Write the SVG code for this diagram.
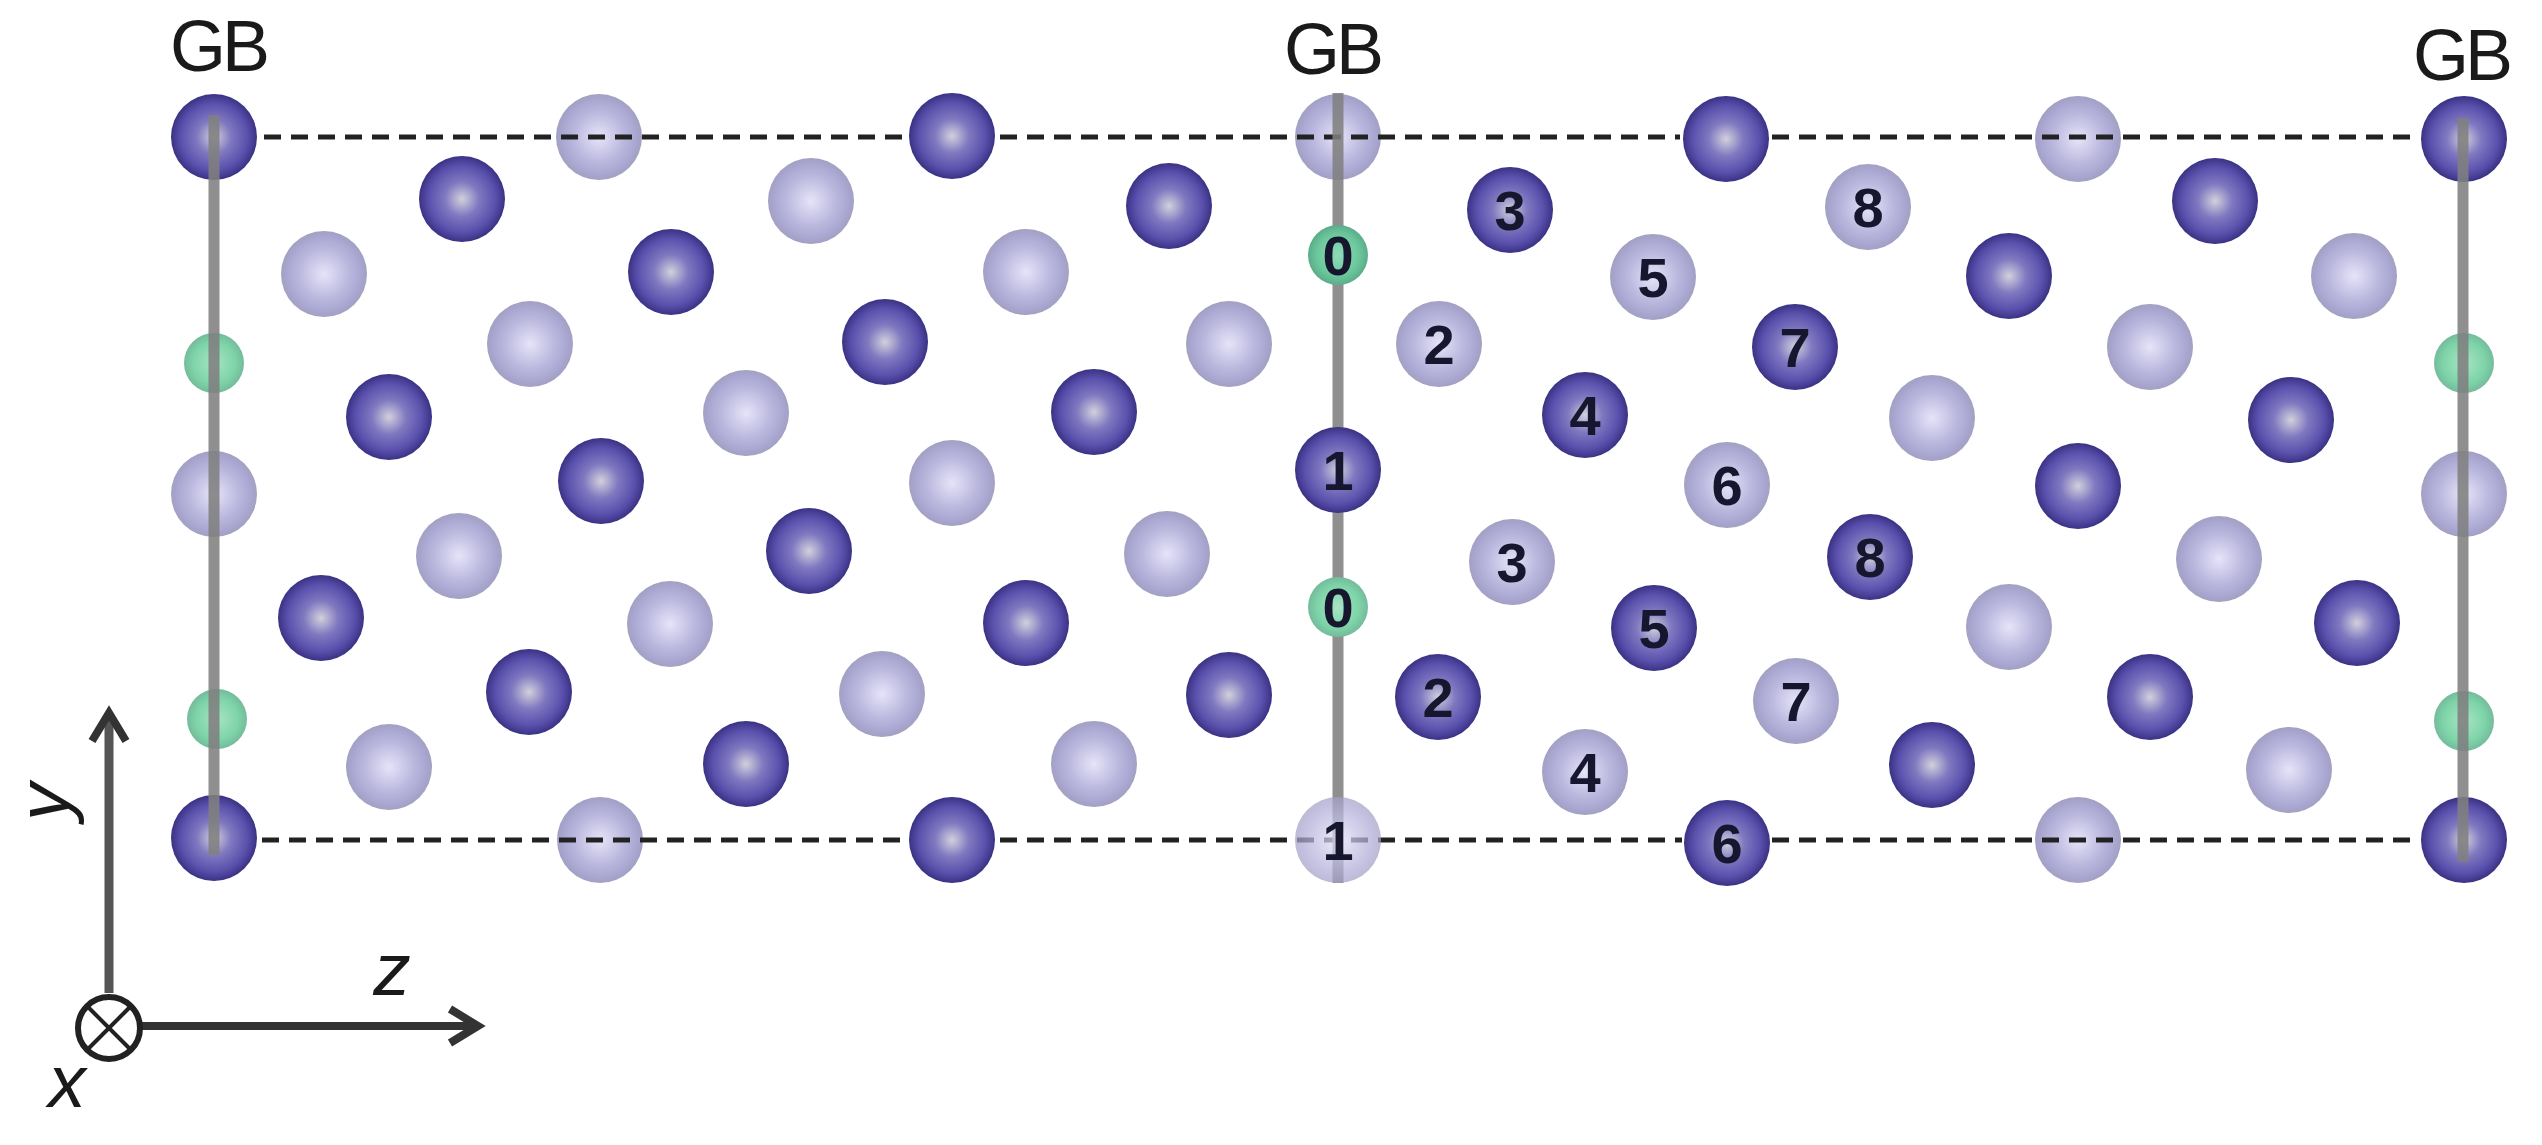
<svg xmlns="http://www.w3.org/2000/svg" width="2542" height="1145" viewBox="0 0 2542 1145">
<style>
.d{fill:url(#gd)}.l{fill:url(#gl)}.g{fill:url(#gg)}.h{fill:url(#gh)}
circle.d,circle.l{r:43px}
circle.g,circle.h{r:30px}
.n{font:bold 56px "Liberation Sans",Arial,sans-serif;fill:#16162e;text-anchor:middle}
.t{font:72px "Liberation Sans",Arial,sans-serif;fill:#1a1a1a;text-anchor:middle}
.i{font:italic 75px "Liberation Sans",Arial,sans-serif;fill:#1a1a1a;text-anchor:middle}
.v{stroke:#808080;stroke-width:11;stroke-opacity:.88;fill:none}
.s{stroke:#222;stroke-width:5;stroke-dasharray:17 10;fill:none}
</style>
<defs>
<radialGradient id="gd"><stop offset="0" stop-color="#d2d0dc"/><stop offset=".4" stop-color="#8079c0"/><stop offset=".78" stop-color="#5a50ad"/><stop offset="1" stop-color="#3a3284"/></radialGradient>
<radialGradient id="gl"><stop offset="0" stop-color="#e6e4f8"/><stop offset=".55" stop-color="#bdbae0"/><stop offset=".85" stop-color="#aaa7d2"/><stop offset="1" stop-color="#a2a0c2"/></radialGradient>
<radialGradient id="gg"><stop offset="0" stop-color="#a8e4c6"/><stop offset=".7" stop-color="#7ed4a8"/><stop offset="1" stop-color="#74bb9c"/></radialGradient>
<radialGradient id="gh"><stop offset="0" stop-color="#8fdcb8"/><stop offset=".7" stop-color="#6cc79c"/><stop offset="1" stop-color="#5aad8a"/></radialGradient>
<marker id="up" markerUnits="userSpaceOnUse" markerWidth="50" markerHeight="50" refX="37" refY="25" orient="auto" viewBox="0 0 50 50" overflow="visible"><path d="M12 8L40 25L12 42" fill="none" stroke="#333" stroke-width="8"/></marker>
</defs>
<rect width="2542" height="1145" fill="#fff"/>
<g id="labels-gb">
<text class="t" x="220" y="71" textLength="100">GB</text>
<text class="t" x="1334" y="74" textLength="100">GB</text>
<text class="t" x="2463" y="80" textLength="100">GB</text>
</g>
<g id="atoms">
<g id="a1"><circle class="l" cx="599" cy="137"/></g>
<g id="a2"><circle class="l" cx="1338" cy="137"/></g>
<g id="a3"><circle class="l" cx="2078" cy="139"/></g>
<g id="a4"><circle class="l" cx="600" cy="840"/></g>
<g id="a5"><circle class="l" cx="2078" cy="840"/></g>
<g id="a6"><circle class="l" cx="324" cy="274"/></g>
<g id="a7"><circle class="l" cx="530" cy="344"/></g>
<g id="a8"><circle class="l" cx="746" cy="413"/></g>
<g id="a9"><circle class="l" cx="952" cy="483"/></g>
<g id="a10"><circle class="l" cx="1167" cy="554"/></g>
<g id="a11"><circle class="l" cx="459" cy="556"/></g>
<g id="a12"><circle class="l" cx="670" cy="624"/></g>
<g id="a13"><circle class="l" cx="882" cy="694"/></g>
<g id="a14"><circle class="l" cx="1094" cy="764"/></g>
<g id="a15"><circle class="l" cx="389" cy="767"/></g>
<g id="a16"><circle class="l" cx="811" cy="201"/></g>
<g id="a17"><circle class="l" cx="1026" cy="272"/></g>
<g id="a18"><circle class="l" cx="1229" cy="344"/></g>
<g id="a19"><circle class="l" cx="214" cy="494"/></g>
<g id="a20"><circle class="l" cx="2354" cy="276"/></g>
<g id="a21"><circle class="l" cx="2150" cy="347"/></g>
<g id="a22"><circle class="l" cx="1932" cy="418"/></g>
<g id="a23"><circle class="l" cx="2464" cy="494"/></g>
<g id="a24"><circle class="l" cx="2219" cy="559"/></g>
<g id="a25"><circle class="l" cx="2009" cy="627"/></g>
<g id="a26"><circle class="l" cx="2289" cy="770"/></g>
<g id="b1"><circle class="d" cx="214" cy="137"/></g>
<g id="b2"><circle class="d" cx="952" cy="136"/></g>
<g id="b3"><circle class="d" cx="1726" cy="139"/></g>
<g id="b4"><circle class="d" cx="2464" cy="139"/></g>
<g id="b5"><circle class="d" cx="214" cy="838"/></g>
<g id="b6"><circle class="d" cx="952" cy="840"/></g>
<g id="b7"><circle class="d" cx="2464" cy="840"/></g>
<g id="b8"><circle class="d" cx="462" cy="199"/></g>
<g id="b9"><circle class="d" cx="671" cy="272"/></g>
<g id="b10"><circle class="d" cx="885" cy="342"/></g>
<g id="b11"><circle class="d" cx="1094" cy="412"/></g>
<g id="b12"><circle class="d" cx="389" cy="417"/></g>
<g id="b13"><circle class="d" cx="601" cy="481"/></g>
<g id="b14"><circle class="d" cx="809" cy="551"/></g>
<g id="b15"><circle class="d" cx="1026" cy="623"/></g>
<g id="b16"><circle class="d" cx="321" cy="618"/></g>
<g id="b17"><circle class="d" cx="529" cy="692"/></g>
<g id="b18"><circle class="d" cx="746" cy="764"/></g>
<g id="b19"><circle class="d" cx="1229" cy="695"/></g>
<g id="b20"><circle class="d" cx="1169" cy="206"/></g>
<g id="b21"><circle class="d" cx="2215" cy="201"/></g>
<g id="b22"><circle class="d" cx="2009" cy="276"/></g>
<g id="b23"><circle class="d" cx="2291" cy="420"/></g>
<g id="b24"><circle class="d" cx="2078" cy="486"/></g>
<g id="b25"><circle class="d" cx="2357" cy="623"/></g>
<g id="b26"><circle class="d" cx="2150" cy="697"/></g>
<g id="b27"><circle class="d" cx="1932" cy="765"/></g>
<g id="g1"><circle class="g" cx="214" cy="363"/></g>
<g id="g2"><circle class="g" cx="217" cy="719"/></g>
<g id="g3"><circle class="g" cx="2464" cy="363"/></g>
<g id="g4"><circle class="g" cx="2464" cy="721"/></g>
<g id="n-d3"><circle class="d" cx="1510" cy="210"/><text class="n" x="1510" y="230">3</text></g>
<g id="n-l8"><circle class="l" cx="1868" cy="207"/><text class="n" x="1868" y="227">8</text></g>
<g id="n-l5"><circle class="l" cx="1653" cy="277"/><text class="n" x="1653" y="297">5</text></g>
<g id="n-l2"><circle class="l" cx="1439" cy="344"/><text class="n" x="1439" y="364">2</text></g>
<g id="n-d7"><circle class="d" cx="1795" cy="347"/><text class="n" x="1795" y="367">7</text></g>
<g id="n-d4"><circle class="d" cx="1585" cy="415"/><text class="n" x="1585" y="435">4</text></g>
<g id="n-l6"><circle class="l" cx="1727" cy="485"/><text class="n" x="1727" y="505">6</text></g>
<g id="n-l3"><circle class="l" cx="1512" cy="562"/><text class="n" x="1512" y="582">3</text></g>
<g id="n-d8"><circle class="d" cx="1870" cy="557"/><text class="n" x="1870" y="577">8</text></g>
<g id="n-d5"><circle class="d" cx="1654" cy="628"/><text class="n" x="1654" y="648">5</text></g>
<g id="n-d2"><circle class="d" cx="1438" cy="697"/><text class="n" x="1438" y="717">2</text></g>
<g id="n-l7"><circle class="l" cx="1796" cy="701"/><text class="n" x="1796" y="721">7</text></g>
<g id="n-l4"><circle class="l" cx="1585" cy="772"/><text class="n" x="1585" y="792">4</text></g>
<g id="n-d6"><circle class="d" cx="1727" cy="843"/><text class="n" x="1727" y="863">6</text></g>
</g>
<g id="connectors">
<path class="s" d="M264 137H903M1000 137H1680M1772 137H2420"/>
<path class="s" d="M262 840H905M1000 840H1682M1772 840H2420"/>
<path class="v" d="M214 115V855"/>
<path class="v" d="M1338 93V883"/>
<path class="v" d="M2463 118V862"/>
<path d="M109 993V716" stroke="#555" stroke-width="9" fill="none" marker-end="url(#up)"/>
<path d="M141 1026H475" stroke="#333" stroke-width="8" fill="none" marker-end="url(#up)"/>
</g>
<g id="center-atoms">
<g id="n-g0a"><circle class="h" cx="1338" cy="255"/><text class="n" x="1338" y="275">0</text></g>
<g id="n-d1"><circle class="d" cx="1338" cy="470"/><text class="n" x="1338" y="490">1</text></g>
<g id="n-g0b"><circle class="g" cx="1338" cy="607"/><text class="n" x="1338" y="627">0</text></g>
<g id="n-l1"><circle class="l" cx="1338" cy="840" opacity=".72"/><text class="n" x="1338" y="860">1</text></g>
</g>
<g id="axes">
<circle cx="109" cy="1028" r="31" fill="#fff" stroke="#222" stroke-width="6"/>
<path d="M87 1006L131 1050M131 1006L87 1050" stroke="#222" stroke-width="4" fill="none"/>
<text class="i" x="392" y="995">z</text>
<text class="i" x="67" y="1107">x</text>
<text class="i" transform="translate(69 802) rotate(-90)">y</text>
</g>
</svg>
